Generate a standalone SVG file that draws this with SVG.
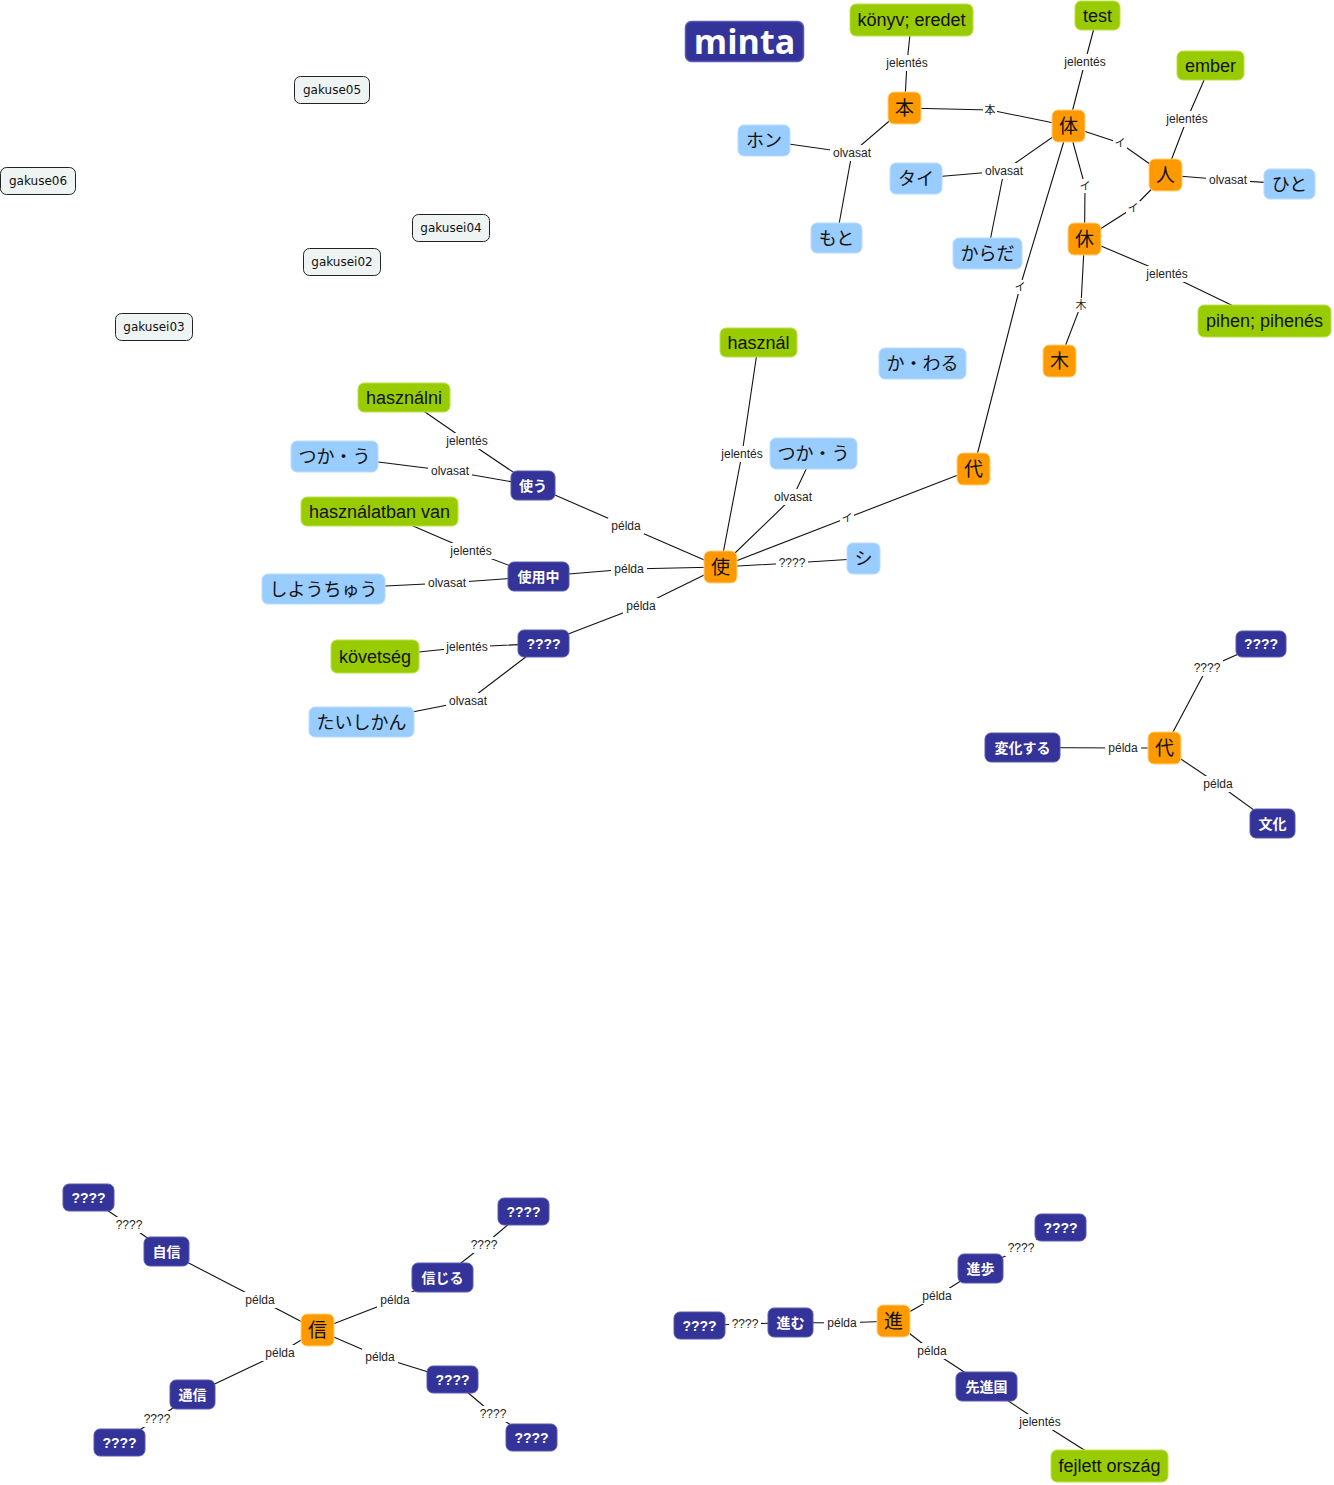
<svg xmlns="http://www.w3.org/2000/svg" width="1334" height="1485" viewBox="0 0 1334 1485">
<style>
.bg{fill:#ffffff}
.c path{fill:none;stroke:#111;stroke-width:1.1}
.lb rect{fill:#fff}
.lb text{font-family:"Liberation Sans",Arial,sans-serif;font-size:12px;fill:#222;text-anchor:middle}
.lb text.j{font-family:"Noto Sans CJK JP",sans-serif;font-size:11px}
.g rect{fill:#99cc00;stroke:#bde04a;stroke-width:1}
.g text{font-family:"Liberation Sans",Arial,sans-serif;font-size:18px;fill:#111;text-anchor:middle}
.b rect{fill:#99ccff;stroke:#b8dcff;stroke-width:1}
.b text{font-family:"Noto Sans CJK JP",sans-serif;font-size:18px;fill:#111;text-anchor:middle}
.o rect{fill:#ff9900;stroke:#ffd27a;stroke-width:1}
.o text{font-family:"Noto Sans CJK JP",sans-serif;font-size:19px;fill:#111;text-anchor:middle}
.d rect{fill:#333399;stroke:#5a5ab0;stroke-width:1}
.d text{font-family:"Liberation Sans","Noto Sans CJK JP",sans-serif;font-size:14px;font-weight:bold;fill:#fff;text-anchor:middle}
.k rect{fill:#eef3f3;stroke:#222;stroke-width:1}
.k text{font-family:"DejaVu Sans",sans-serif;font-size:12px;fill:#111;text-anchor:middle}
</style>
<rect class="bg" x="0" y="0" width="1334" height="1485"/>
<g id="connectors" class="c">
<path d="M904.5 108 L907 63 L911.5 20"/>
<path d="M904.5 108 L990 110 L1068.5 126"/>
<path d="M764 140.5 L852 153 L904.5 108"/>
<path d="M852 153 L836.5 238"/>
<path d="M1068.5 126 L1085 62 L1097.5 15"/>
<path d="M916 178.5 L1004 171 L1068.5 126"/>
<path d="M1004 171 L987.5 253.5"/>
<path d="M1068.5 126 L1120 143 L1165.5 175"/>
<path d="M1068.5 126 L1085 186 L1084.5 239"/>
<path d="M1165.5 175 L1133 208 L1084.5 239"/>
<path d="M1165.5 175 L1187 119 L1210.5 65.5"/>
<path d="M1165.5 175 L1228 180 L1289.5 184"/>
<path d="M1084.5 239 L1167 274 L1264.5 321"/>
<path d="M1084.5 239 L1081 305 L1059.5 361"/>
<path d="M1068.5 126 L1020 287 L973.5 469"/>
<path d="M720.5 567 L847 518 L973.5 469"/>
<path d="M720.5 567 L792 563 L863.5 558.5"/>
<path d="M720.5 567 L793 497 L813.5 453.5"/>
<path d="M720.5 567 L742 454 L758.5 342.5"/>
<path d="M720.5 567 L626 526 L533 485.5"/>
<path d="M720.5 567 L629 569 L538.5 576.5"/>
<path d="M720.5 567 L641 606 L543.5 643.5"/>
<path d="M533 485.5 L467 441 L404 397.5"/>
<path d="M533 485.5 L450 471 L334.5 456.5"/>
<path d="M538.5 576.5 L471 551 L379.5 511.5"/>
<path d="M538.5 576.5 L447 583 L323.5 589"/>
<path d="M543.5 643.5 L467 647 L375 656.5"/>
<path d="M543.5 643.5 L468 701 L361.5 722"/>
<path d="M1164.5 748 L1207 668 L1261 644"/>
<path d="M1164.5 748 L1123 748 L1022.5 747.5"/>
<path d="M1164.5 748 L1218 784 L1272.5 823.5"/>
<path d="M317.5 1330 L260 1300 L166.5 1251.5"/>
<path d="M317.5 1330 L395 1300 L442.5 1277.5"/>
<path d="M317.5 1330 L280 1353 L192.5 1394.5"/>
<path d="M317.5 1330 L380 1357 L452.5 1379.5"/>
<path d="M166.5 1251.5 L129 1225 L88.5 1197.5"/>
<path d="M442.5 1277.5 L484 1245 L523.5 1211.5"/>
<path d="M192.5 1394.5 L157 1419 L119.5 1442.5"/>
<path d="M452.5 1379.5 L493 1414 L531.5 1437.5"/>
<path d="M893.5 1321 L842 1323 L790.5 1322.5"/>
<path d="M790.5 1322.5 L745 1324 L699.5 1325.5"/>
<path d="M893.5 1321 L937 1296 L980.5 1268.5"/>
<path d="M893.5 1321 L932 1351 L986.5 1386.5"/>
<path d="M980.5 1268.5 L1021 1248 L1060.5 1227.5"/>
<path d="M986.5 1386.5 L1040 1422 L1109.5 1466"/>
</g>
<g id="edge-labels" class="lb">
<rect x="884" y="55" width="46" height="16"/><text x="907" y="67">jelentés</text>
<rect x="983" y="103" width="14" height="14"/><text class="j" x="990" y="114">本</text>
<rect x="830" y="145" width="44" height="16"/><text x="852" y="157">olvasat</text>
<rect x="1062" y="54" width="46" height="16"/><text x="1085" y="66">jelentés</text>
<rect x="982" y="163" width="44" height="16"/><text x="1004" y="175">olvasat</text>
<rect x="1113" y="136" width="14" height="14"/><text class="j" x="1120" y="147">イ</text>
<rect x="1078" y="179" width="14" height="14"/><text class="j" x="1085" y="190">イ</text>
<rect x="1126" y="201" width="14" height="14"/><text class="j" x="1133" y="212">イ</text>
<rect x="1164" y="111" width="46" height="16"/><text x="1187" y="123">jelentés</text>
<rect x="1206" y="172" width="44" height="16"/><text x="1228" y="184">olvasat</text>
<rect x="1144" y="266" width="46" height="16"/><text x="1167" y="278">jelentés</text>
<rect x="1074" y="298" width="14" height="14"/><text class="j" x="1081" y="309">木</text>
<rect x="1013" y="280" width="14" height="14"/><text class="j" x="1020" y="291">イ</text>
<rect x="840" y="511" width="14" height="14"/><text class="j" x="847" y="522">イ</text>
<rect x="776" y="555" width="32" height="16"/><text x="792" y="567">????</text>
<rect x="771" y="489" width="44" height="16"/><text x="793" y="501">olvasat</text>
<rect x="719" y="446" width="46" height="16"/><text x="742" y="458">jelentés</text>
<rect x="608" y="518" width="36" height="16"/><text x="626" y="530">példa</text>
<rect x="611" y="561" width="36" height="16"/><text x="629" y="573">példa</text>
<rect x="623" y="598" width="36" height="16"/><text x="641" y="610">példa</text>
<rect x="444" y="433" width="46" height="16"/><text x="467" y="445">jelentés</text>
<rect x="428" y="463" width="44" height="16"/><text x="450" y="475">olvasat</text>
<rect x="448" y="543" width="46" height="16"/><text x="471" y="555">jelentés</text>
<rect x="425" y="575" width="44" height="16"/><text x="447" y="587">olvasat</text>
<rect x="444" y="639" width="46" height="16"/><text x="467" y="651">jelentés</text>
<rect x="446" y="693" width="44" height="16"/><text x="468" y="705">olvasat</text>
<rect x="1191" y="660" width="32" height="16"/><text x="1207" y="672">????</text>
<rect x="1105" y="740" width="36" height="16"/><text x="1123" y="752">példa</text>
<rect x="1200" y="776" width="36" height="16"/><text x="1218" y="788">példa</text>
<rect x="242" y="1292" width="36" height="16"/><text x="260" y="1304">példa</text>
<rect x="377" y="1292" width="36" height="16"/><text x="395" y="1304">példa</text>
<rect x="262" y="1345" width="36" height="16"/><text x="280" y="1357">példa</text>
<rect x="362" y="1349" width="36" height="16"/><text x="380" y="1361">példa</text>
<rect x="113" y="1217" width="32" height="16"/><text x="129" y="1229">????</text>
<rect x="468" y="1237" width="32" height="16"/><text x="484" y="1249">????</text>
<rect x="141" y="1411" width="32" height="16"/><text x="157" y="1423">????</text>
<rect x="477" y="1406" width="32" height="16"/><text x="493" y="1418">????</text>
<rect x="824" y="1315" width="36" height="16"/><text x="842" y="1327">példa</text>
<rect x="729" y="1316" width="32" height="16"/><text x="745" y="1328">????</text>
<rect x="919" y="1288" width="36" height="16"/><text x="937" y="1300">példa</text>
<rect x="914" y="1343" width="36" height="16"/><text x="932" y="1355">példa</text>
<rect x="1005" y="1240" width="32" height="16"/><text x="1021" y="1252">????</text>
<rect x="1017" y="1414" width="46" height="16"/><text x="1040" y="1426">jelentés</text>
</g>
<g id="title">
<rect x="685.5" y="21.5" width="118" height="40" rx="6" fill="#333399" stroke="#5a5ab0" stroke-width="1.5"/>
<text x="744.5" y="54" font-family="'Open Sans','DejaVu Sans',sans-serif" font-size="34" font-weight="bold" fill="#fff" text-anchor="middle">minta</text>
</g>
<g id="n-gakuse05" class="k"><rect x="294.5" y="76.5" width="75" height="27" rx="6"/><text x="332" y="94">gakuse05</text></g>
<g id="n-gakuse06" class="k"><rect x="0.5" y="167.5" width="75" height="27" rx="6"/><text x="38" y="185">gakuse06</text></g>
<g id="n-gakusei04" class="k"><rect x="412.5" y="214.5" width="77" height="27" rx="6"/><text x="451" y="232">gakusei04</text></g>
<g id="n-gakusei02" class="k"><rect x="303.5" y="248.5" width="77" height="27" rx="6"/><text x="342" y="266">gakusei02</text></g>
<g id="n-gakusei03" class="k"><rect x="115.5" y="313.5" width="77" height="27" rx="6"/><text x="154" y="331">gakusei03</text></g>
<g id="n-konyv" class="g"><rect x="850" y="4" width="123" height="32" rx="6"/><text x="911.5" y="26">könyv; eredet</text></g>
<g id="n-test" class="g"><rect x="1075" y="1" width="45" height="29" rx="6"/><text x="1097.5" y="22">test</text></g>
<g id="n-ember" class="g"><rect x="1177" y="51" width="67" height="29" rx="6"/><text x="1210.5" y="72">ember</text></g>
<g id="n-pihen" class="g"><rect x="1198" y="305" width="133" height="32" rx="6"/><text x="1264.5" y="327">pihen; pihenés</text></g>
<g id="n-hasznal" class="g"><rect x="720" y="328" width="77" height="29" rx="6"/><text x="758.5" y="349">használ</text></g>
<g id="n-hasznalni" class="g"><rect x="358" y="383" width="92" height="29" rx="6"/><text x="404" y="404">használni</text></g>
<g id="n-hasznalatban" class="g"><rect x="301" y="497" width="157" height="29" rx="6"/><text x="379.5" y="518">használatban van</text></g>
<g id="n-kovetseg" class="g"><rect x="331" y="640" width="88" height="33" rx="6"/><text x="375" y="663">követség</text></g>
<g id="n-fejlett" class="g"><rect x="1051" y="1450" width="117" height="32" rx="6"/><text x="1109.5" y="1472">fejlett ország</text></g>
<g id="n-hon-r" class="b"><rect x="738" y="125" width="52" height="31" rx="6"/><text x="764" y="147">ホン</text></g>
<g id="n-moto" class="b"><rect x="811" y="223" width="51" height="30" rx="6"/><text x="836.5" y="244.5">もと</text></g>
<g id="n-tai-r" class="b"><rect x="890" y="163" width="52" height="31" rx="6"/><text x="916" y="185">タイ</text></g>
<g id="n-karada" class="b"><rect x="953" y="238" width="69" height="31" rx="6"/><text x="987.5" y="260">からだ</text></g>
<g id="n-hito-r" class="b"><rect x="1264" y="169" width="51" height="30" rx="6"/><text x="1289.5" y="190.5">ひと</text></g>
<g id="n-kawaru" class="b"><rect x="879" y="348" width="87" height="31" rx="6"/><text x="922.5" y="370">か・わる</text></g>
<g id="n-tsukau-r1" class="b"><rect x="291" y="441" width="87" height="31" rx="6"/><text x="334.5" y="463">つか・う</text></g>
<g id="n-tsukau-r2" class="b"><rect x="770" y="438" width="87" height="31" rx="6"/><text x="813.5" y="460">つか・う</text></g>
<g id="n-shiyouchuu-r" class="b"><rect x="262" y="574" width="123" height="30" rx="6"/><text x="323.5" y="595.5">しようちゅう</text></g>
<g id="n-shi-r" class="b"><rect x="847" y="543" width="33" height="31" rx="6"/><text x="863.5" y="565">シ</text></g>
<g id="n-taishikan" class="b"><rect x="309" y="707" width="105" height="30" rx="6"/><text x="361.5" y="728.5">たいしかん</text></g>
<g id="n-hon" class="o"><rect x="888" y="92" width="33" height="32" rx="6"/><text x="904.5" y="114.5">本</text></g>
<g id="n-karada-k" class="o"><rect x="1052" y="110" width="33" height="32" rx="6"/><text x="1068.5" y="132.5">体</text></g>
<g id="n-hito" class="o"><rect x="1149" y="159" width="33" height="32" rx="6"/><text x="1165.5" y="181.5">人</text></g>
<g id="n-kyuu" class="o"><rect x="1068" y="223" width="33" height="32" rx="6"/><text x="1084.5" y="245.5">休</text></g>
<g id="n-ki" class="o"><rect x="1043" y="345" width="33" height="32" rx="6"/><text x="1059.5" y="367.5">木</text></g>
<g id="n-dai1" class="o"><rect x="957" y="453" width="33" height="32" rx="6"/><text x="973.5" y="475.5">代</text></g>
<g id="n-shi" class="o"><rect x="704" y="551" width="33" height="32" rx="6"/><text x="720.5" y="573.5">使</text></g>
<g id="n-dai2" class="o"><rect x="1148" y="732" width="33" height="32" rx="6"/><text x="1164.5" y="754.5">代</text></g>
<g id="n-shin" class="o"><rect x="301" y="1314" width="33" height="32" rx="6"/><text x="317.5" y="1336.5">信</text></g>
<g id="n-susu" class="o"><rect x="877" y="1305" width="33" height="32" rx="6"/><text x="893.5" y="1327.5">進</text></g>
<g id="n-tsukau" class="d"><rect x="511" y="471" width="44" height="29" rx="6"/><text x="533" y="490.5">使う</text></g>
<g id="n-shiyouchuu" class="d"><rect x="508" y="562" width="61" height="29" rx="6"/><text x="538.5" y="581.5">使用中</text></g>
<g id="n-q1" class="d"><rect x="518" y="630" width="51" height="27" rx="6"/><text x="543.5" y="648.5">????</text></g>
<g id="n-q2" class="d"><rect x="1236" y="631" width="50" height="26" rx="6"/><text x="1261" y="649">????</text></g>
<g id="n-henka" class="d"><rect x="985" y="733" width="75" height="29" rx="6"/><text x="1022.5" y="752.5">変化する</text></g>
<g id="n-bunka" class="d"><rect x="1250" y="809" width="45" height="29" rx="6"/><text x="1272.5" y="828.5">文化</text></g>
<g id="n-q3" class="d"><rect x="63" y="1184" width="51" height="27" rx="6"/><text x="88.5" y="1202.5">????</text></g>
<g id="n-jishin" class="d"><rect x="144" y="1237" width="45" height="29" rx="6"/><text x="166.5" y="1256.5">自信</text></g>
<g id="n-q4" class="d"><rect x="498" y="1198" width="51" height="27" rx="6"/><text x="523.5" y="1216.5">????</text></g>
<g id="n-shinjiru" class="d"><rect x="412" y="1263" width="61" height="29" rx="6"/><text x="442.5" y="1282.5">信じる</text></g>
<g id="n-tsuushin" class="d"><rect x="170" y="1380" width="45" height="29" rx="6"/><text x="192.5" y="1399.5">通信</text></g>
<g id="n-q5" class="d"><rect x="94" y="1429" width="51" height="27" rx="6"/><text x="119.5" y="1447.5">????</text></g>
<g id="n-q6" class="d"><rect x="427" y="1366" width="51" height="27" rx="6"/><text x="452.5" y="1384.5">????</text></g>
<g id="n-q7" class="d"><rect x="506" y="1424" width="51" height="27" rx="6"/><text x="531.5" y="1442.5">????</text></g>
<g id="n-q8" class="d"><rect x="674" y="1312" width="51" height="27" rx="6"/><text x="699.5" y="1330.5">????</text></g>
<g id="n-susumu" class="d"><rect x="768" y="1308" width="45" height="29" rx="6"/><text x="790.5" y="1327.5">進む</text></g>
<g id="n-shinpo" class="d"><rect x="958" y="1254" width="45" height="29" rx="6"/><text x="980.5" y="1273.5">進歩</text></g>
<g id="n-q9" class="d"><rect x="1035" y="1214" width="51" height="27" rx="6"/><text x="1060.5" y="1232.5">????</text></g>
<g id="n-senshinkoku" class="d"><rect x="956" y="1372" width="61" height="29" rx="6"/><text x="986.5" y="1391.5">先進国</text></g>
</svg>
